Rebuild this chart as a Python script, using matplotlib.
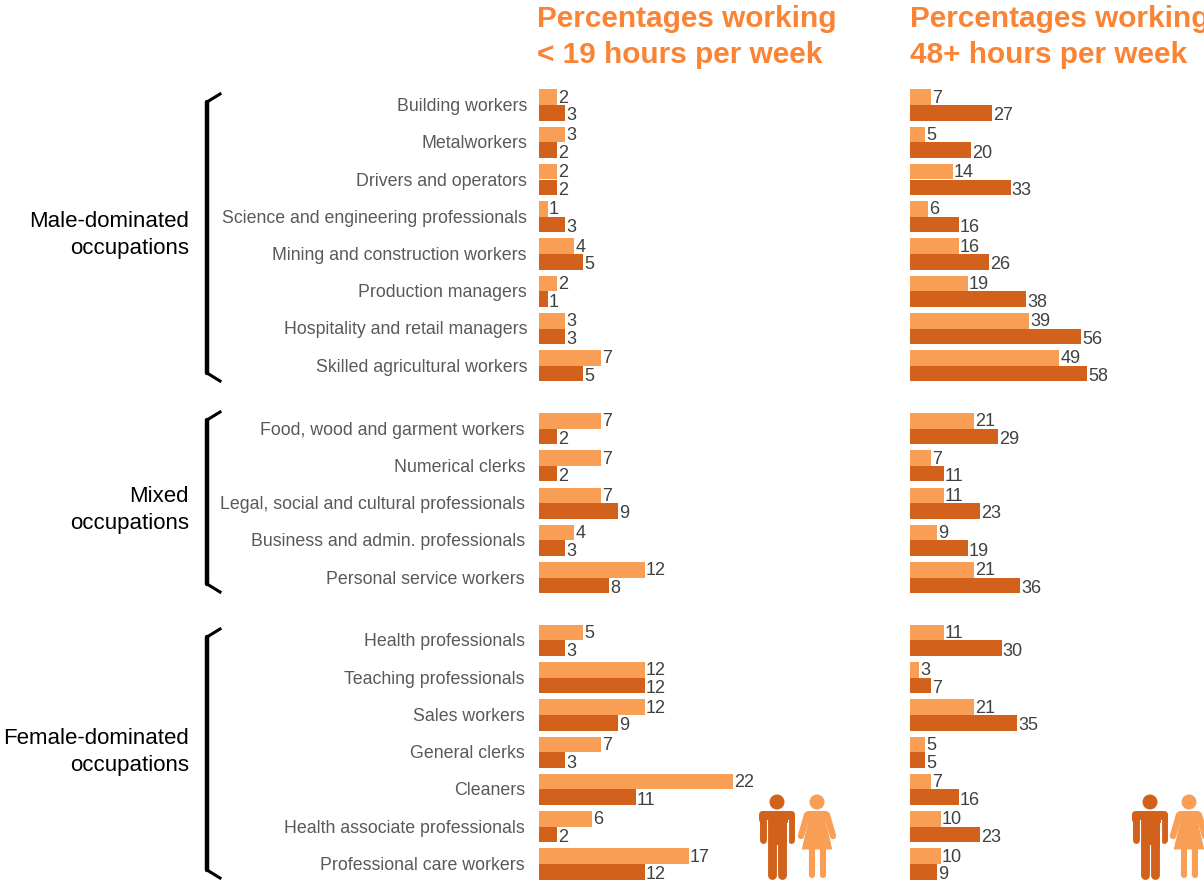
import matplotlib
matplotlib.use('Agg')
import matplotlib.pyplot as plt
from matplotlib.patches import Circle, FancyBboxPatch, Polygon

plt.rcParams['font.family'] = ['Liberation Sans', 'DejaVu Sans']

male_jobs = ['Building workers', 'Metalworkers', 'Drivers and operators',
             'Science and engineering professionals', 'Mining and construction workers',
             'Production managers', 'Hospitality and retail managers', 'Skilled agricultural workers']
mixed_jobs = ['Food, wood and garment workers', 'Numerical clerks',
              'Legal, social and cultural professionals', 'Business and admin. professionals',
              'Personal service workers']
female_jobs = ['Health professionals', 'Teaching professionals', 'Sales workers', 'General clerks',
               'Cleaners', 'Health associate professionals', 'Professional care workers']
group_names = ['Male-dominated\noccupations', 'Mixed\noccupations', 'Female-dominated\noccupations']

# light = women, dark = men
short_women = [2, 3, 2, 1, 4, 2, 3, 7, 7, 7, 7, 4, 12, 5, 12, 12, 7, 22, 6, 17]
short_men = [3, 2, 2, 3, 5, 1, 3, 5, 2, 2, 9, 3, 8, 3, 12, 9, 3, 11, 2, 12]
long_women = [7, 5, 14, 6, 16, 19, 39, 49, 21, 7, 11, 9, 21, 11, 3, 21, 5, 7, 10, 10]
long_men = [27, 20, 33, 16, 26, 38, 56, 58, 29, 11, 23, 19, 36, 30, 7, 35, 5, 16, 23, 9]

titles = [['Percentages working', '< 19 hours per week'], ['Percentages working', '48+ hours per week']]

LIGHT = '#F99F55'
DARK = '#D2621B'
TITLE = '#FA8334'
W, H = 1204, 881

fig = plt.figure(figsize=(W / 100, H / 100), dpi=100)

# overlay in pixel coordinates for text, brackets and icons
over = fig.add_axes([0, 0, 1, 1], zorder=3)
over.set_xlim(0, W)
over.set_ylim(H, 0)
over.axis('off')
over.patch.set_alpha(0)

# row centres
groups = [male_jobs, mixed_jobs, female_jobs]
pitch = 37.25
y = 105
ys = []
for g in groups:
    for job in g:
        ys.append(y)
        y += pitch
    y += 25.6


def panel(left, right, scale, women, men):
    ax = fig.add_axes([left / W, 0, (right - left) / W, 1], zorder=1)
    ax.set_xlim(0, (right - left) / scale)
    ax.set_ylim(H, 0)
    ax.axis('off')
    h = 15.6
    ax.barh([v - h / 2 for v in ys], women, height=h, color=LIGHT)
    ax.barh([v + h / 2 for v in ys], men, height=h, color=DARK)
    for v, a, b in zip(ys, women, men):
        ax.annotate(str(a), (a, v - h / 2 + 1), xytext=(0.8, 0), textcoords='offset points',
                    va='center', ha='left', fontsize=13, color='#404040')
        ax.annotate(str(b), (b, v + h / 2 + 3), xytext=(0.8, 0), textcoords='offset points',
                    va='center', ha='left', fontsize=13, color='#404040')
    return ax


panel(539, 900, 8.8, short_women, short_men)
panel(910, 1204, 3.05, long_women, long_men)

for tx, lines in zip([537, 910], titles):
    over.text(tx, 19, lines[0], color=TITLE, fontsize=21.4, fontweight='bold', va='center')
    over.text(tx, 55, lines[1], color=TITLE, fontsize=21.4, fontweight='bold', va='center')

# row labels
all_jobs = male_jobs + mixed_jobs + female_jobs
for i, (job, v) in enumerate(zip(all_jobs, ys)):
    xr = 527 if i < 8 else 525
    over.text(xr, v + 1.5, job, ha='right', va='center', fontsize=12.75, color='#595959')

# group labels and brackets
for name, ymid, top, bottom in zip(group_names, [235, 510, 752], [94, 412, 629], [381, 592, 878]):
    over.text(189, ymid, name, ha='right', va='center', fontsize=16, color='black', linespacing=1.35)
    over.plot([207, 207], [top + 8, bottom - 8], color='black', lw=3.2, solid_capstyle='round')
    over.plot([220, 207], [top, top + 8], color='black', lw=2.2)
    over.plot([220, 207], [bottom, bottom - 8], color='black', lw=2.2)


def man(cx):
    over.add_patch(Circle((cx, 802), 7.5, color=DARK, lw=0))
    over.add_patch(FancyBboxPatch((cx - 14, 815), 28, 4, boxstyle='round,pad=4', color=DARK, lw=0))
    for dx in (-14.3, 14.3):
        over.plot([cx + dx, cx + dx], [817, 840], color=DARK, lw=5, solid_capstyle='round')
    over.add_patch(Polygon([(cx - 10, 820), (cx + 10, 820), (cx + 10, 845), (cx - 10, 845)], color=DARK, lw=0))
    for dx in (-5.2, 5.2):
        over.plot([cx + dx, cx + dx], [840, 875], color=DARK, lw=6.4, solid_capstyle='round')
    # slits between arms and body
    for dx in (-10.5, 10.5):
        over.plot([cx + dx, cx + dx], [820, 846], color='white', lw=0.8)
    over.plot([cx, cx], [845, 880], color='white', lw=0.7)


def woman(cx):
    over.add_patch(Circle((cx, 802), 7.5, color=LIGHT, lw=0))
    for s in (-1, 1):
        over.plot([cx + s * 10, cx + s * 16], [815, 836], color=LIGHT, lw=4.6, solid_capstyle='round')
    over.add_patch(FancyBboxPatch((cx - 9, 813), 18, 4, boxstyle='round,pad=2', color=LIGHT, lw=0))
    over.add_patch(Polygon([(cx - 8, 816), (cx + 8, 816), (cx + 16, 850), (cx - 16, 850)],
                           facecolor=LIGHT, edgecolor='white', lw=0.8))
    over.add_patch(Polygon([(cx - 9, 812), (cx + 9, 812), (cx + 8, 822), (cx - 8, 822)], color=LIGHT, lw=0))
    for s in (-1, 1):
        over.plot([cx + s * 5.5, cx + s * 5.5], [849, 875], color=LIGHT, lw=4.4, solid_capstyle='round')


for mx, wx in [(777, 817), (1150, 1189)]:
    man(mx)
    woman(wx)

fig.savefig('out.png', dpi=100)
